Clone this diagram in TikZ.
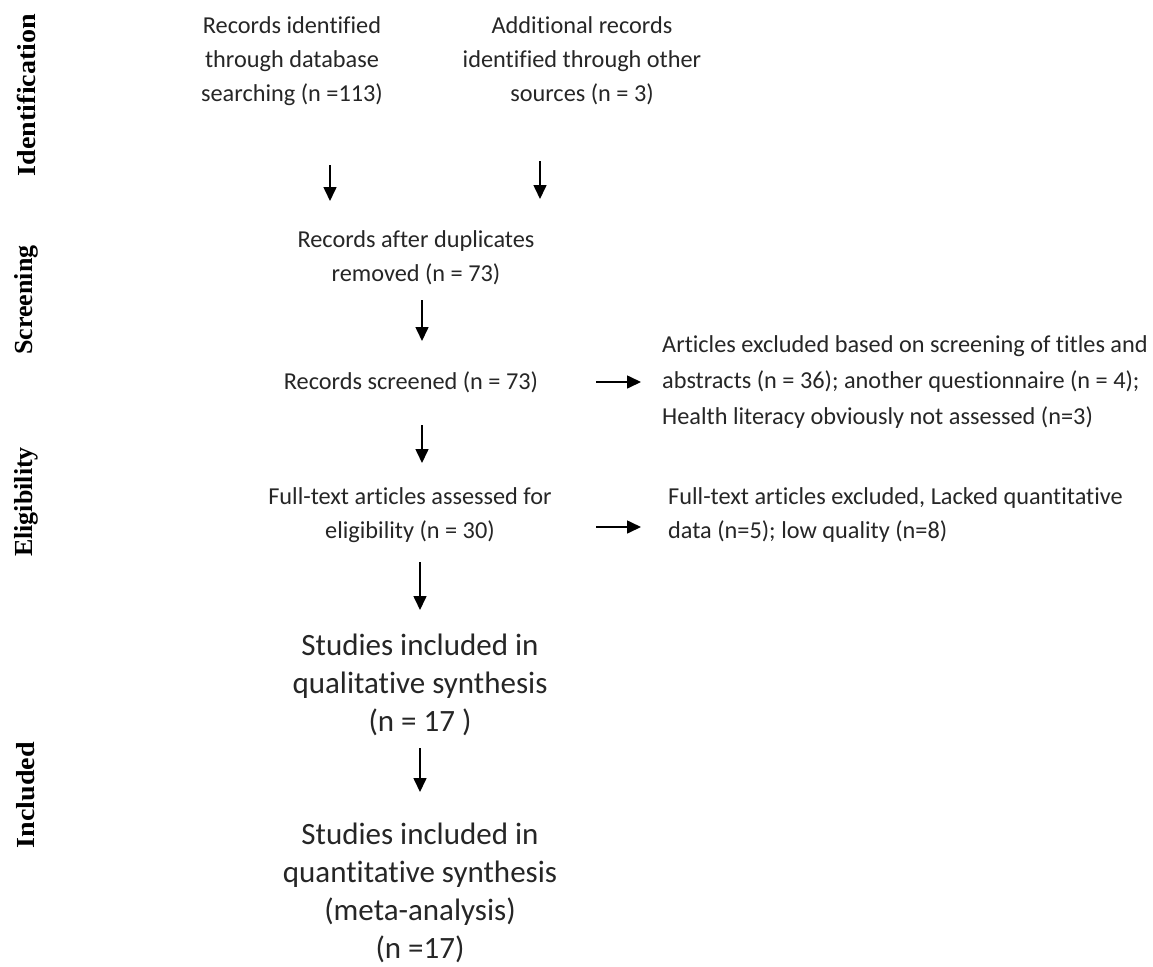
\documentclass[tikz,border=0pt]{standalone}
\usepackage{fontspec}
\setmainfont[Ligatures=CommonOff]{Carlito}
\newfontfamily\sidefont{Liberation Serif}
\usetikzlibrary{arrows.meta}
\begin{document}
\begin{tikzpicture}[x=1pt,y=-1pt,
  txt/.style={inner sep=0pt,align=center,text=black!85,font=\fontsize{24.3}{34}\selectfont},
  big/.style={inner sep=0pt,align=center,text=black!85,font=\fontsize{31}{38}\selectfont},
  side/.style={inner sep=0pt,rotate=90,font=\sidefont\bfseries\fontsize{26}{30}\selectfont},
  arr/.style={line width=1.6pt,-{Triangle[width=13pt,length=14pt]}}]
\fill[white] (0,0) rectangle (1153,966);
\useasboundingbox (0,0) rectangle (1153,966);
% phase labels
\node[side] (lid) at (26,95) {\scalebox{1.08}[1]{Identification}};
\node[side] (lsc) at (26,300) {Screening};
\node[side] (lel) at (26,502) {Eligibility};
\node[side] (lin) at (26,795) {\scalebox{1.08}[1]{Included}};
% main flow
\node[txt] (db) at (292,61) {Records identified\\through database\\searching (n =113)};
\node[txt] (oth) at (582,61) {Additional records\\identified through other\\sources (n = 3)};
\node[txt] (dup) at (416,258) {Records after duplicates\\removed (n = 73)};
\node[txt] (scr) at (411,382) {Records screened (n = 73)};
\node[txt,align=left,anchor=west,font=\fontsize{24.3}{36}\selectfont] (ex1) at (662,382) {Articles excluded based on screening of titles and\\abstracts (n = 36); another questionnaire (n = 4);\\Health literacy obviously not assessed (n=3)};
\node[txt] (full) at (410,515) {Full-text articles assessed for\\eligibility (n = 30)};
\node[txt,align=left,anchor=west] (ex2) at (668,515) {Full-text articles excluded, Lacked quantitative\\data (n=5); low quality (n=8)};
\node[big] (qual) at (420,685) {Studies included in\\qualitative synthesis\\(n = 17 )};
\node[big] (quant) at (420,893) {Studies included in\\quantitative synthesis\\(meta-analysis)\\(n =17)};
% arrow end points
\coordinate (a1s) at (330,165); \coordinate (a1e) at (330,201);
\coordinate (a2s) at (540,161); \coordinate (a2e) at (540,199);
\coordinate (a3s) at (422,300); \coordinate (a3e) at (422,341);
\coordinate (a4s) at (422,425); \coordinate (a4e) at (422,463);
\coordinate (a5s) at (420,562); \coordinate (a5e) at (420,610);
\coordinate (a6s) at (420,748); \coordinate (a6e) at (420,792);
\coordinate (r1s) at (596,382); \coordinate (r1e) at (641,382);
\coordinate (r2s) at (596,527); \coordinate (r2e) at (641,527);
\draw[arr] (a1s) -- (a1e);
\draw[arr] (a2s) -- (a2e);
\draw[arr] (a3s) -- (a3e);
\draw[arr] (a4s) -- (a4e);
\draw[arr] (a5s) -- (a5e);
\draw[arr] (a6s) -- (a6e);
\draw[arr] (r1s) -- (r1e);
\draw[arr] (r2s) -- (r2e);
\end{tikzpicture}
\end{document}
